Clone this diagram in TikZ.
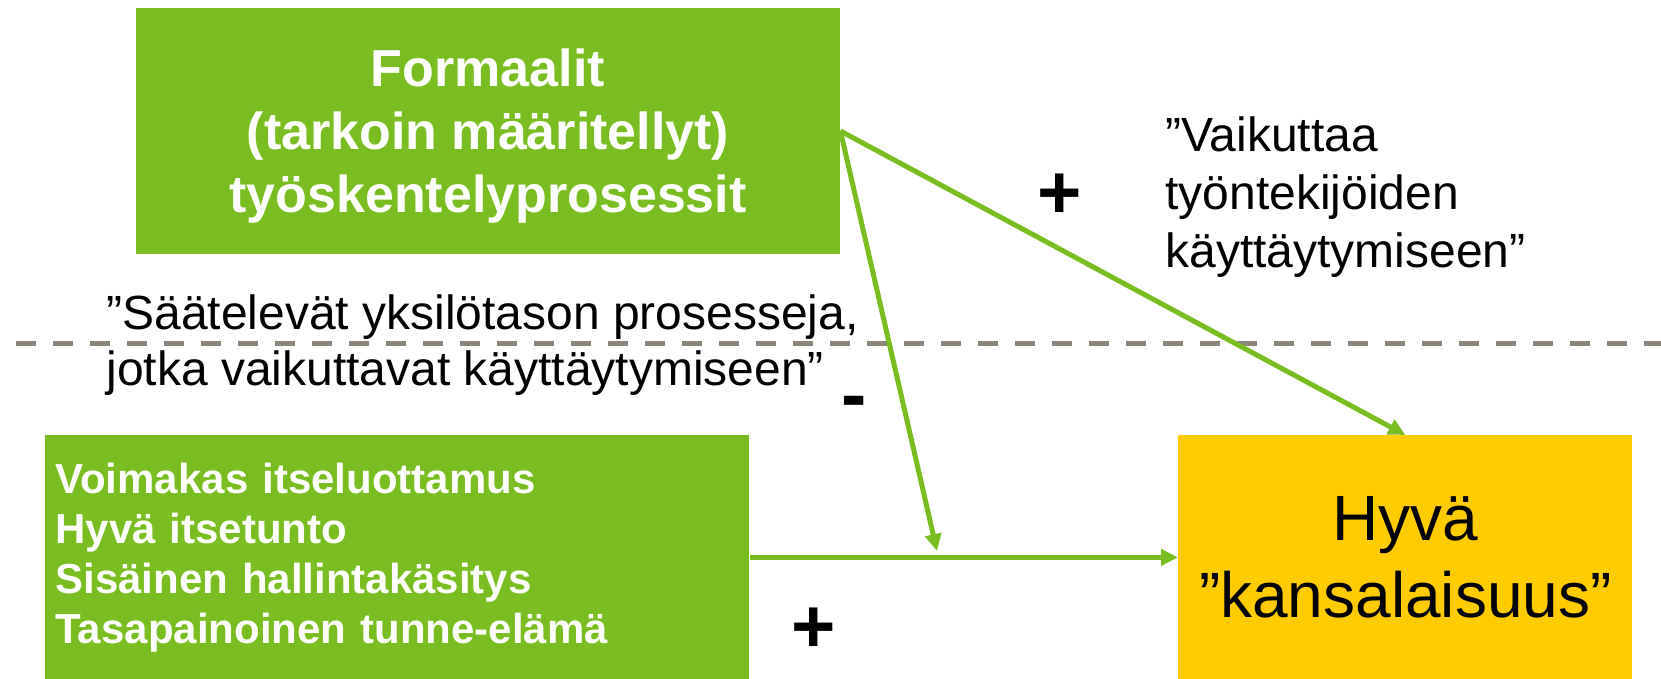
\documentclass[tikz,border=0pt]{standalone}
\usepackage{fontspec}
\setmainfont{Liberation Sans}
\usepackage{xcolor}
\usetikzlibrary{positioning,arrows.meta}
\definecolor{leafgreen}{RGB}{120,190,32}
\definecolor{sunyellow}{RGB}{255,204,0}
\definecolor{dashgray}{RGB}{140,133,123}

\begin{document}
\begin{tikzpicture}[x=0.5pt, y=-0.5pt,
greenbox/.style={rectangle, fill=leafgreen, text=white, inner sep=0pt},
yellowbox/.style={rectangle, fill=sunyellow, text=black, inner sep=0pt, minimum width=227pt, minimum height=122pt, align=center, font=\fontsize{32}{38.5}\selectfont},
quote/.style={anchor=base west, align=left, inner sep=0pt},
sign/.style={anchor=base, inner sep=0pt, font=\fontsize{38}{40}\selectfont\bfseries},
link/.style={draw=leafgreen, line width=2.5pt, -{Triangle[length=8.5pt, width=8pt]}}]

\useasboundingbox (0,0) rectangle (1661,679);

\node[greenbox, minimum width=352pt, minimum height=123pt, align=center, font=\fontsize{26}{31.5}\selectfont\bfseries] at (488,131) (form) {\rule{0pt}{24pt}Formaalit\\(tarkoin määritellyt)\\työskentelyprosessit};
\node[greenbox, anchor=north west, text width=342pt, minimum height=122pt, inner xsep=5pt, align=left, font=\fontsize{21}{25}\selectfont\bfseries] at (45,435) (self) {Voimakas itseluottamus\\Hyvä itsetunto\\Sisäinen hallintakäsitys\\Tasapainoinen tunne-elämä};
\node[yellowbox, anchor=north west] at (1178,435) (good) {Hyvä\\”kansalaisuus”};

\coordinate (lineL) at (16,344);
\coordinate (lineR) at (1661,344);
\draw[dashgray, line width=2.5pt, dash pattern=on 10pt off 8.5pt] (lineL) -- (lineR);

\node[quote, font=\fontsize{24}{29}\selectfont] at (1165,268) (effect) {”Vaikuttaa\\työntekijöiden\\käyttäytymiseen”};
\node[quote, font=\fontsize{24}{28}\selectfont] at (106,386) (regulate) {”Säätelevät yksilötason prosesseja,\\jotka vaikuttavat käyttäytymiseen”};

\node[sign] at (1060,219) (plusA) {+};
\node[sign] at (854,421) (minus) {-};
\node[sign] at (814,652) (plusB) {+};

\coordinate (join) at (937,551);
\draw[link] (form.east) -- (good.north);
\draw[link] (form.east) -- (join);
\draw[link] (self.east) -- (good.west);

\end{tikzpicture}
\end{document}
